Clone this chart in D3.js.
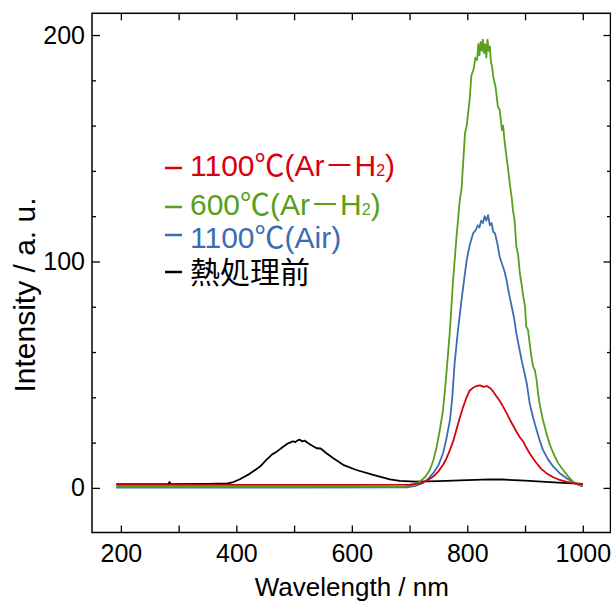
<!DOCTYPE html>
<html>
<head>
<meta charset="utf-8">
<script src="https://cdn.jsdelivr.net/npm/d3@7.9.0/dist/d3.min.js"></script>
<style>
  html, body { margin: 0; padding: 0; background: #fff; }
  svg { display: block; font-family: "Liberation Sans", Arial, "Noto Sans CJK JP", sans-serif; }
</style>
</head>
<body>
<div id="chart"></div>
<script>
// wavelength (nm), intensity (a.u.)
const before = [[192,1.7],[250,1.7],[283,1.7],[284,2.6],[286,1.7],[350,1.8],[385,2.0],[393,2.4],[406,3.8],[423,6.2],[441,9.4],
  [452,12.4],[462,14.8],[470,16],[481,18.2],[489,19.6],[493,20],[498,20.6],[502,20.2],[506,21],[510,21.3],[514,20.5],
  [518,20.9],[524,19.8],[530,18.8],[539,17.5],[546,17.4],[556,15.3],[568,13.1],[585,10.2],[608,7.9],[637,5.7],
  [666,3.8],[683,3.1],[710,2.8],[750,3.0],[800,3.4],[840,3.8],[860,3.7],[900,3.2],[950,2.4],[1000,1.8]];

const air1100 = [[192,0.1],[500,0.1],[695,0.2],[710,0.9],[723,2.1],[732,4],[741,6.5],[750,10],[758,15.3],[764,22],[770,30],
  [774,40],[778,55],[784,70],[790,83],[795,93],[799,100.7],[804,107],[810,112.4],[815,114],[818,116],[821,115],[824,118],
  [827,117],[830,120],[833,118],[836,120.5],[839,116],[842,117],[845,113],[848,112.4],[852,108],[856,102.1],[860,99],
  [864,96],[868,91.8],[872,86],[877,80],[881,75],[885,68.3],[889,63],[894,56.5],[898,52],[903,46],[908,37.4],[914,31],
  [920,25.6],[926,20.5],[931,16.8],[940,12.5],[949,9.4],[960,6.5],[972,4.3],[986,2],[1000,0.6]];

const arh600 = [[192,0.5],[500,0.5],[690,0.6],[705,1.2],[718,2.8],[727,4.8],[735,7.9],[741,12],[747,18.2],[752,25],[758,34.4],
  [764,51],[770,70],[775,90.4],[781,110],[787,127.2],[790,132],[796,156.6],[799,160],[804,171.3],[807,182],[811,185],
  [814,190],[817,189],[819,196],[821,191],[823,197],[825,193],[827,198],[829,192],[831,196],[833,190],[835,198],[837,193],
  [839,195],[841,188],[843,186],[845,181.6],[849,177],[853,168.3],[856,167],[860,158],[862,160],[865,152],[868,146],
  [871,140],[874,133.5],[877,128],[879,122.7],[882,118],[885,106.5],[888,103],[891,94.8],[894,90],[897,84.5],[900,80],
  [902,71.2],[905,70],[908,63.9],[911,58],[914,53.6],[917,52],[920,47.7],[922,43],[925,37.4],[931,30],[937,24.1],
  [943,19],[949,15.3],[957,11],[966,7.9],[975,5],[983,2.8],[992,1.5],[1000,0.6]];

const arh1100 = [[192,1.3],[400,1.3],[600,1.3],[700,1.4],[718,2.0],[730,3.2],[741,5],[750,7.3],[758,10.2],[764,13],[770,16.8],
  [776,21],[781,25.6],[787,31],[793,35.9],[798,39.5],[804,43],[810,44.2],[816,45],[822,45.3],[828,44.6],[834,45],[840,44],
  [845,42.5],[851,40.3],[856,38.5],[862,35.9],[868,33],[874,30],[880,27.2],[885,24.9],[891,22.4],[897,20.4],[902,17.8],
  [908,15.3],[914,13],[920,10.9],[928,8.4],[937,6.5],[948,4.8],[960,3.5],[972,2.7],[983,2.1],[1000,1.5]];

// legend labels; the H2 ones get a small "2" and closing bracket appended
const seriesNames  = ['熱処理前', '1100℃(Air)', '600℃(Ar－H', '1100℃(Ar－H'];
const seriesData   = [before, air1100, arh600, arh1100];
const seriesColors = ['#000000', '#3a6db3', '#56a01a', '#d8000f'];

const xTicks  = [200, 300, 400, 500, 600, 700, 800, 900, 1000];
const xLabels = [200, 400, 600, 800, 1000];
const yMajor  = [0, 100, 200];
const yMinor  = [20, 40, 60, 80, 120, 140, 160, 180];

const width = 611, height = 606;
const svg = d3.select('#chart').append('svg')
  .attr('width', width).attr('height', height);

const x = d3.scaleLinear().domain([150, 1048]).range([92, 610.5]);
const y = d3.scaleLinear().domain([-19.7, 209.6]).range([532.5, 13.3]);

// curves, black first so the coloured ones sit over it
const line = d3.line().x(d => x(d[0])).y(d => y(d[1]));
svg.append('g').selectAll('path')
  .data(seriesData)
  .join('path')
  .attr('d', line)
  .attr('fill', 'none')
  .attr('stroke', (d, i) => seriesColors[i])
  .attr('stroke-width', 1.8)
  .attr('stroke-linejoin', 'round');

// axes: all ticks point inward
function styleAxis(g) {
  g.select('.domain').remove();
  g.selectAll('line').attr('stroke', '#000').attr('stroke-width', 1.3);
  g.selectAll('text').attr('font-size', 25).attr('fill', '#000')
    .attr('font-family', '"Liberation Sans", Arial, sans-serif');
}

svg.append('g').attr('transform', `translate(0,${y.range()[0]})`)
  .call(d3.axisBottom(x).tickValues(xTicks).tickSize(-7).tickPadding(12)
    .tickFormat(d => xLabels.includes(d) ? d : ''))
  .call(styleAxis);

svg.append('g').attr('transform', `translate(0,${y.range()[1]})`)
  .call(d3.axisTop(x).tickValues(xTicks).tickSize(-7).tickFormat(''))
  .call(styleAxis);

svg.append('g').attr('transform', `translate(${x.range()[0]},0)`)
  .call(d3.axisLeft(y).tickValues(yMajor).tickSize(-8).tickPadding(7))
  .call(styleAxis);
svg.append('g').attr('transform', `translate(${x.range()[0]},0)`)
  .call(d3.axisLeft(y).tickValues(yMinor).tickSize(-4).tickFormat(''))
  .call(styleAxis);

svg.append('g').attr('transform', `translate(${x.range()[1]},0)`)
  .call(d3.axisRight(y).tickValues(yMajor).tickSize(-7).tickFormat(''))
  .call(styleAxis);
svg.append('g').attr('transform', `translate(${x.range()[1]},0)`)
  .call(d3.axisRight(y).tickValues(yMinor).tickSize(-3.5).tickFormat(''))
  .call(styleAxis);

// frame
svg.append('rect')
  .attr('x', x.range()[0]).attr('y', y.range()[1])
  .attr('width', x.range()[1] - x.range()[0])
  .attr('height', y.range()[0] - y.range()[1])
  .attr('fill', 'none').attr('stroke', '#000').attr('stroke-width', 1.5);

// axis titles
svg.append('text')
  .attr('x', (x(200) + x(1000)) / 2).attr('y', 596)
  .attr('text-anchor', 'middle').attr('font-size', 26)
  .text('Wavelength / nm');

svg.append('text')
  .attr('transform', 'translate(35,295) rotate(-90)')
  .attr('text-anchor', 'middle').attr('font-size', 30)
  .text('Intensity / a. u.');

// legend (top to bottom, reverse of draw order)
const legendRows = [
  { i: 3, base: 176, dash: 168, sub: true },
  { i: 2, base: 215, dash: 207, sub: true },
  { i: 1, base: 248, dash: 235, sub: false },
  { i: 0, base: 283, dash: 272, sub: false },
];
const legend = svg.append('g');
legendRows.forEach(r => {
  legend.append('line')
    .attr('x1', 165).attr('x2', 182)
    .attr('y1', r.dash).attr('y2', r.dash)
    .attr('stroke', seriesColors[r.i]).attr('stroke-width', 2.5);
  const t = legend.append('text')
    .attr('x', 190).attr('y', r.base)
    .attr('font-size', 30)
    .attr('lang', 'ja')
    .attr('fill', seriesColors[r.i]);
  t.append('tspan').text(seriesNames[r.i]);
  if (r.sub) {
    t.append('tspan').attr('font-size', 16).text('2');
    t.append('tspan').text(')');
  }
});
</script>
</body>
</html>
